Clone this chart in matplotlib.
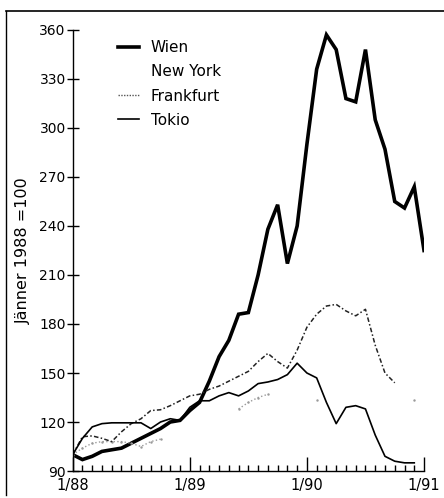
import numpy as np
import matplotlib
matplotlib.use("Agg")
import matplotlib.pyplot as plt
from matplotlib.lines import Line2D

nan = np.nan

# monthly index values, Jänner 1988 = 100 (months 0..36 = 1/88 .. 1/91)
wien = [100, 97, 99, 102, 103, 104, 107, 110, 113, 116, 120, 121,
        127, 132, 145, 160, 170, 186, 187, 210, 238, 253, 217, 240,
        290, 336, 357, 348, 318, 316, 348, 305, 287, 255, 251, 264, 225]
new_york = [100, 104, 107, 108, 108, 108, 107, 105, 108, 109.5, nan, nan,
            nan, nan, nan, nan, nan, 128, 132, 135, 137, nan, nan, nan,
            nan, 133.5, nan, nan, nan, nan, nan, nan, nan, nan, nan, 133.5]
frankfurt = [100, 111, 111.5, 110, 108, 114, 119, 122, 127, 127.5, 130, 133,
             136, 137, 140, 142, 145, 148, 151, 157, 162, 157, 153, 164,
             178, 186, 191, 192, 188, 185, 189, 167, 150, 144]
tokio = [100, 110, 117, 119, 119.5, 119.5, 119.5, 119.5, 116, 120, 122, 121,
         129, 133, 133, 136, 138, 136, 139, 143.5, 144.5, 146, 149, 156,
         150, 147, 132, 119, 129, 130, 128, 112, 99, 96, 95, 95]

x_labels = ["1/88", "1/89", "1/90", "1/91"]

plt.rcParams['font.family'] = ['DejaVu Sans']

fig = plt.figure(figsize=(4.44, 4.98), dpi=100)
ax = fig.add_axes([0.1637, 0.0542, 0.955 - 0.1637, 0.9398 - 0.0542])

ax.plot(range(len(wien)), wien, color='black', lw=2.6, solid_joinstyle='miter')
ax.plot(range(len(new_york)), new_york, color='#9a9a9a', lw=1.0, ls=':',
        marker='.', markersize=1.5)
ax.plot(range(len(frankfurt)), frankfurt, color='#222222', lw=1.1,
        ls=(0, (3, 1.5, 1, 1.5)))
ax.plot(range(len(tokio)), tokio, color='black', lw=1.2)

ax.set_xlim(0, 36)
ax.set_ylim(90, 360)
ax.spines['top'].set_visible(False)
ax.spines['right'].set_visible(False)
ax.spines['left'].set_linewidth(1.0)
ax.spines['bottom'].set_linewidth(1.0)

ax.set_yticks(range(90, 361, 30))
ax.tick_params(axis='y', direction='inout', length=8, width=1.0,
               labelsize=10, pad=1)
ax.set_xticks([0, 12, 24, 36])
ax.set_xticklabels(x_labels)
ax.set_xticks(range(0, 37), minor=True)
ax.tick_params(axis='x', which='major', direction='in', length=10, width=1.0,
               labelsize=10.5, pad=5)
ax.tick_params(axis='x', which='minor', direction='in', length=4, width=1.0)

ax.set_ylabel("Jänner 1988 =100", fontsize=11.5, labelpad=6)

handles = [
    Line2D([], [], color='black', lw=2.6),
    Line2D([], [], color='white', lw=1.0),
    Line2D([], [], color='#555555', lw=1.0, ls=(0, (1, 1))),
    Line2D([], [], color='black', lw=1.2),
]
ax.legend(handles, ["Wien", "New York", "Frankfurt", "Tokio"],
          loc='upper left', bbox_to_anchor=(0.09, 1.008), frameon=False,
          fontsize=11, handlelength=1.4, handletextpad=0.75, labelspacing=0.6)

# page border (left and top)
fig.add_artist(Line2D([6 / 444, 6 / 444], [1 - 11 / 498, 1 - 495 / 498],
                      color='black', lw=1.0))
fig.add_artist(Line2D([6 / 444, 1.0], [1 - 11 / 498, 1 - 11 / 498],
                      color='black', lw=1.2))

fig.savefig("out.png", dpi=100)
